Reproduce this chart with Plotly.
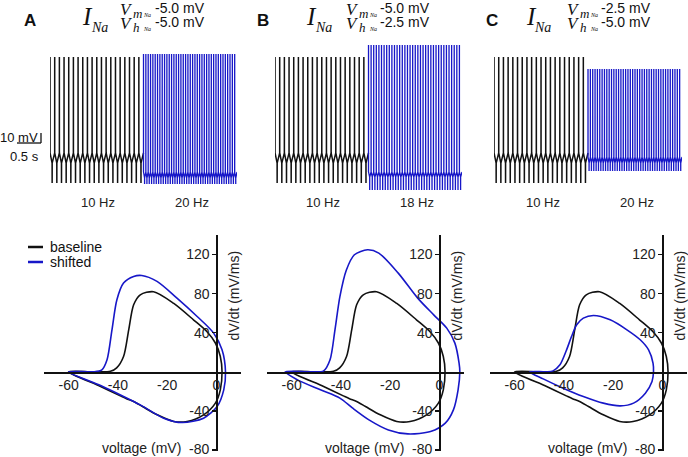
import plotly.graph_objects as go

W, H = 688, 457


def px(x):
    return x / W


def py(y):
    return 1 - y / H


# ---------------- data ----------------
seg_dur = 2.0                     # seconds per condition
baseline_rate = 10                # Hz
shifted_rates = [20, 18, 20]      # Hz (A, B, C)
freq_labels = [("10 Hz", "20 Hz"), ("10 Hz", "18 Hz"), ("10 Hz", "20 Hz")]
panel_letters = ["A", "B", "C"]
vm_shift = ["-5.0 mV", "-5.0 mV", "-2.5 mV"]
vh_shift = ["-5.0 mV", "-2.5 mV", "-5.0 mV"]

# one spike cycle (fraction of the period, membrane voltage mV)
spike_phase = [0.0, 0.006, 0.012, 0.45, 0.46, 0.47, 1.0]
baseline_spike_mV = [-45, 3, -45, -50, -60, -50, -45]
shifted_spike_mV = [
    [-54.5, 4.5, -54.5, -57.5, -60.5, -57.5, -54.5],
    [-54.5, 9.0, -54.5, -57.0, -63.5, -57.0, -54.5],
    [-47.0, -3.0, -47.0, -50.0, -54.0, -50.0, -47.0],
]

# phase-plane loops: voltage (mV) and dV/dt (mV/ms)
baseline_loop_V = [-60, -50, -43, -40.5, -37.7, -35.6, -33.6, -30.9, -25.5, -17.3, -9.2,
                   -3.8, -0.4, 1.6, 2.3, 1.6, -0.4, -5.2, -11.9, -17.3, -24, -30, -33.6,
                   -36.5, -39, -47, -60]
baseline_loop_dV = [0, 0, 0.5, 4, 15.7, 43, 68.6, 78.8, 82, 70, 53, 41, 29.5, 15.7, 0,
                    -18.4, -32, -44, -50.8, -50.8, -44, -35.5, -30.4, -27.5, -24.6, -15, 0]

shifted_loop_V = [
    [-60, -50, -46.5, -44.4, -42.4, -40.4, -37.7, -33.6, -30.3, -24.1, -16, -7.8, -1.1,
     2.3, 3.7, 3, 0.3, -5.2, -13.9, -21.4, -30.9, -37.7, -47, -60],
    [-62.6, -52, -47, -44.4, -42.4, -40.4, -37.8, -34.5, -29.2, -24.6, -16.7, -8.8, -2.3,
     3, 6.3, 8, 8.3, 7.6, 5.7, 2.4, -3.6, -12.8, -20.7, -28.6, -35.2, -40.4, -48.3,
     -57.6, -62.6],
    [-53.9, -47, -44.4, -41.6, -38.9, -36.9, -34.8, -32.1, -28, -21.2, -14.4, -9, -5.6,
     -3.8, -3.6, -4.2, -6.9, -11.7, -17.1, -24, -32.1, -40.3, -48.4, -53.9],
]
shifted_loop_dV = [
    [0, 0, 2, 12.3, 43, 73.7, 90.8, 97.6, 98.6, 92.5, 75.4, 56.6, 39.6, 22.5, 0, -18.4,
     -35.5, -47.4, -51.9, -47.4, -33.8, -25.2, -14, 0],
    [0, 0, 1, 12.3, 43, 77, 104, 119.8, 124.9, 121.5, 101, 75.4, 58.3, 44.7, 29.4, 8.9,
     0, -18.4, -38.9, -52.5, -61.1, -63.5, -59.4, -49.1, -37.2, -26.9, -18.4, -8.2, 0],
    [0, 0, 1, 7.2, 22.5, 36.1, 48.1, 54.9, 57.6, 53.2, 43, 32.8, 22.5, 8.9, 0, -9.9,
     -21.8, -32, -34.8, -32, -25.2, -16.7, -7.2, 0],
]

x_ticks = [-60, -40, -20, 0]
y_ticks = [-80, -40, 40, 80, 120]

# ---------------- styling / layout constants ----------------
BLACK = "#111111"
BLUE = "#1717c8"
SANS = "Liberation Sans, Arial, sans-serif"
SERIF = "Liberation Serif, Times New Roman, serif"

top_dom = [(50, 237), (275, 462), (494, 682)]      # pixel extents of trace panels
phase_dom = [(44, 241), (267, 464), (490, 687)]    # pixel extents of phase-plane x axes
phase_y_dom = (235, 451)
phase_y_range = [-81, 140]
zero_line_px = 372


def spike_train(t0, rate, n, phases, shape):
    t, v = [], []
    for k in range(n):
        for j, (p, s) in enumerate(zip(phases, shape)):
            if j == len(phases) - 1 and k < n - 1:
                continue
            t.append(t0 + (k + p) / rate)
            v.append(s)
    return t, v


fig = go.Figure()
layout = dict(
    width=W, height=H, margin=dict(l=0, r=0, t=0, b=0),
    paper_bgcolor="white", plot_bgcolor="white", showlegend=False,
)
annotations = []
shapes = []

for i in range(3):
    # ---------- spike trains ----------
    xa = "x" if i == 0 else f"x{i + 1}"
    ya = "y" if i == 0 else f"y{i + 1}"
    tb, vb = spike_train(0.0, baseline_rate, int(baseline_rate * seg_dur),
                         spike_phase, baseline_spike_mV)
    ts, vs = spike_train(seg_dur, shifted_rates[i], int(shifted_rates[i] * seg_dur),
                         spike_phase, shifted_spike_mV[i])
    fig.add_trace(go.Scatter(x=tb, y=vb, mode="lines", xaxis=xa, yaxis=ya,
                             line=dict(color=BLACK, width=1.5), hoverinfo="skip"))
    fig.add_trace(go.Scatter(x=ts, y=vs, mode="lines", xaxis=xa, yaxis=ya,
                             line=dict(color=BLUE, width=1.3), hoverinfo="skip"))
    kx = "xaxis" if i == 0 else f"xaxis{i + 1}"
    ky = "yaxis" if i == 0 else f"yaxis{i + 1}"
    layout[kx] = dict(domain=[px(top_dom[i][0]), px(top_dom[i][1])], range=[0, 2 * seg_dur],
                      visible=False, anchor=ya)
    layout[ky] = dict(domain=[py(200), py(40)], range=[-68.5, 11.5], visible=False,
                      anchor=xa)

    # ---------- phase planes ----------
    j = i + 4
    xa2, ya2 = f"x{j}", f"y{j}"
    fig.add_trace(go.Scatter(x=baseline_loop_V, y=baseline_loop_dV, mode="lines",
                             xaxis=xa2, yaxis=ya2, name="baseline",
                             line=dict(color=BLACK, width=1.6, shape="spline", smoothing=0.8),
                             hoverinfo="skip"))
    fig.add_trace(go.Scatter(x=shifted_loop_V[i], y=shifted_loop_dV[i], mode="lines",
                             xaxis=xa2, yaxis=ya2, name="shifted",
                             line=dict(color=BLUE, width=1.6, shape="spline", smoothing=0.8),
                             hoverinfo="skip"))
    x0, x1 = phase_dom[i]
    zero_x = x0 + (0 - (-70)) / 80 * (x1 - x0)
    layout[f"xaxis{j}"] = dict(
        domain=[px(x0), px(x1)], range=[-70, 10], anchor="free", position=py(zero_line_px),
        showline=True, linecolor=BLACK, linewidth=1.5, showgrid=False, zeroline=False,
        tickvals=x_ticks, ticktext=[str(v) for v in x_ticks], ticks="",
        tickfont=dict(family=SANS, size=14, color="#222"), fixedrange=True,
    )
    # the bottom (-80) label sits at the page edge; it is drawn as an annotation below
    layout[f"yaxis{j}"] = dict(
        domain=[py(phase_y_dom[1]), py(phase_y_dom[0])], range=phase_y_range,
        anchor="free", position=px(zero_x), showline=True, linecolor=BLACK, linewidth=1.5,
        showgrid=False, zeroline=False, tickvals=y_ticks,
        ticktext=["" if v == y_ticks[0] else str(v) for v in y_ticks],
        ticks="outside", ticklen=4, tickwidth=1.2,
        tickcolor=BLACK, tickfont=dict(family=SANS, size=14, color="#222"), fixedrange=True,
    )
    annotations.append(dict(x=px(zero_x - 5), y=py(449), xref="paper", yref="paper",
                            text=str(y_ticks[0]), showarrow=False,
                            font=dict(family=SANS, size=14, color="#222"),
                            xanchor="right", yanchor="middle"))
    # axis titles
    annotations.append(dict(x=px(zero_x + 18), y=py(296), xref="paper", yref="paper",
                            text="dV/dt (mV/ms)", textangle=-90, showarrow=False,
                            font=dict(family=SANS, size=14, color="#222"),
                            xanchor="center", yanchor="middle"))
    annotations.append(dict(x=px(zero_x - 75), y=py(448), xref="paper", yref="paper",
                            text="voltage (mV)", showarrow=False,
                            font=dict(family=SANS, size=14, color="#222"),
                            xanchor="center", yanchor="middle"))
    # frequency labels
    for k, lab in enumerate(freq_labels[i]):
        cx = top_dom[i][0] + (top_dom[i][1] - top_dom[i][0]) * (0.25 + 0.5 * k)
        annotations.append(dict(x=px(cx + 1.5), y=py(203), xref="paper", yref="paper",
                                text=lab, showarrow=False,
                                font=dict(family=SANS, size=13, color="#222"),
                                xanchor="center", yanchor="middle"))

# ---------- panel headers ----------
letter_x = [30, 263, 492]
I_x = [87.5, 311.5, 531]
V_x = [126, 352, 573]
txt_x = [153, 378, 599]
for i in range(3):
    annotations.append(dict(x=px(letter_x[i]), y=py(20), xref="paper", yref="paper",
                            text=f"<b>{panel_letters[i]}</b>", showarrow=False,
                            font=dict(family=SANS, size=17, color="#111"),
                            xanchor="center", yanchor="middle"))
    annotations.append(dict(x=px(I_x[i]), y=py(16), xref="paper", yref="paper",
                            text="<i>I</i>", showarrow=False,
                            font=dict(family=SERIF, size=25, color="#111"),
                            xanchor="center", yanchor="middle"))
    annotations.append(dict(x=px(I_x[i] + 1), y=py(27), xref="paper", yref="paper",
                            text="<i>Na</i>", showarrow=False,
                            font=dict(family=SERIF, size=14, color="#111"),
                            xanchor="left", yanchor="middle"))
    for row, (yy, sub, val) in enumerate([(9, "m", vm_shift[i]), (23, "h", vh_shift[i])]):
        annotations.append(dict(x=px(V_x[i]), y=py(yy), xref="paper", yref="paper",
                                text="<i>V</i>", showarrow=False,
                                font=dict(family=SERIF, size=17, color="#111"),
                                xanchor="center", yanchor="middle"))
        annotations.append(dict(x=px(V_x[i] + 5), y=py(yy + 4), xref="paper", yref="paper",
                                text=f"<i>{sub}</i>", showarrow=False,
                                font=dict(family=SERIF, size=13, color="#111"),
                                xanchor="left", yanchor="middle"))
        annotations.append(dict(x=px(V_x[i] + 15), y=py(yy + 6), xref="paper", yref="paper",
                                text="<i>Na</i>", showarrow=False,
                                font=dict(family=SERIF, size=6, color="#111"),
                                xanchor="left", yanchor="middle"))
        annotations.append(dict(x=px(txt_x[i]), y=py(yy - 1), xref="paper", yref="paper",
                                text=val, showarrow=False,
                                font=dict(family=SANS, size=14, color="#111"),
                                xanchor="left", yanchor="middle"))

# ---------- scale bar ----------
shapes.append(dict(type="line", xref="paper", yref="paper", x0=px(41), x1=px(41),
                   y0=py(133), y1=py(143), line=dict(color=BLACK, width=1.3)))
shapes.append(dict(type="line", xref="paper", yref="paper", x0=px(17), x1=px(41),
                   y0=py(143), y1=py(143), line=dict(color=BLACK, width=1.3)))
annotations.append(dict(x=px(19), y=py(137), xref="paper", yref="paper", text="10 mV",
                        showarrow=False, font=dict(family=SANS, size=13, color="#111"),
                        xanchor="center", yanchor="middle"))
annotations.append(dict(x=px(24), y=py(157), xref="paper", yref="paper", text="0.5 s",
                        showarrow=False, font=dict(family=SANS, size=13, color="#111"),
                        xanchor="center", yanchor="middle"))

# ---------- legend ----------
for yy, lab, col in [(247, "baseline", BLACK), (262, "shifted", BLUE)]:
    shapes.append(dict(type="line", xref="paper", yref="paper", x0=px(28), x1=px(43),
                       y0=py(yy), y1=py(yy), line=dict(color=col, width=2.5)))
    annotations.append(dict(x=px(48), y=py(yy), xref="paper", yref="paper", text=lab,
                            showarrow=False, font=dict(family=SANS, size=14, color="#111"),
                            xanchor="left", yanchor="middle"))

layout["annotations"] = annotations
layout["shapes"] = shapes
fig.update_layout(**layout)
fig.write_html(
    "out.html",
    config={"displayModeBar": False, "staticPlot": True},
    post_script=("document.body.style.margin='0';document.body.style.overflow='hidden';"
                 "document.documentElement.style.overflow='hidden';"),
)
